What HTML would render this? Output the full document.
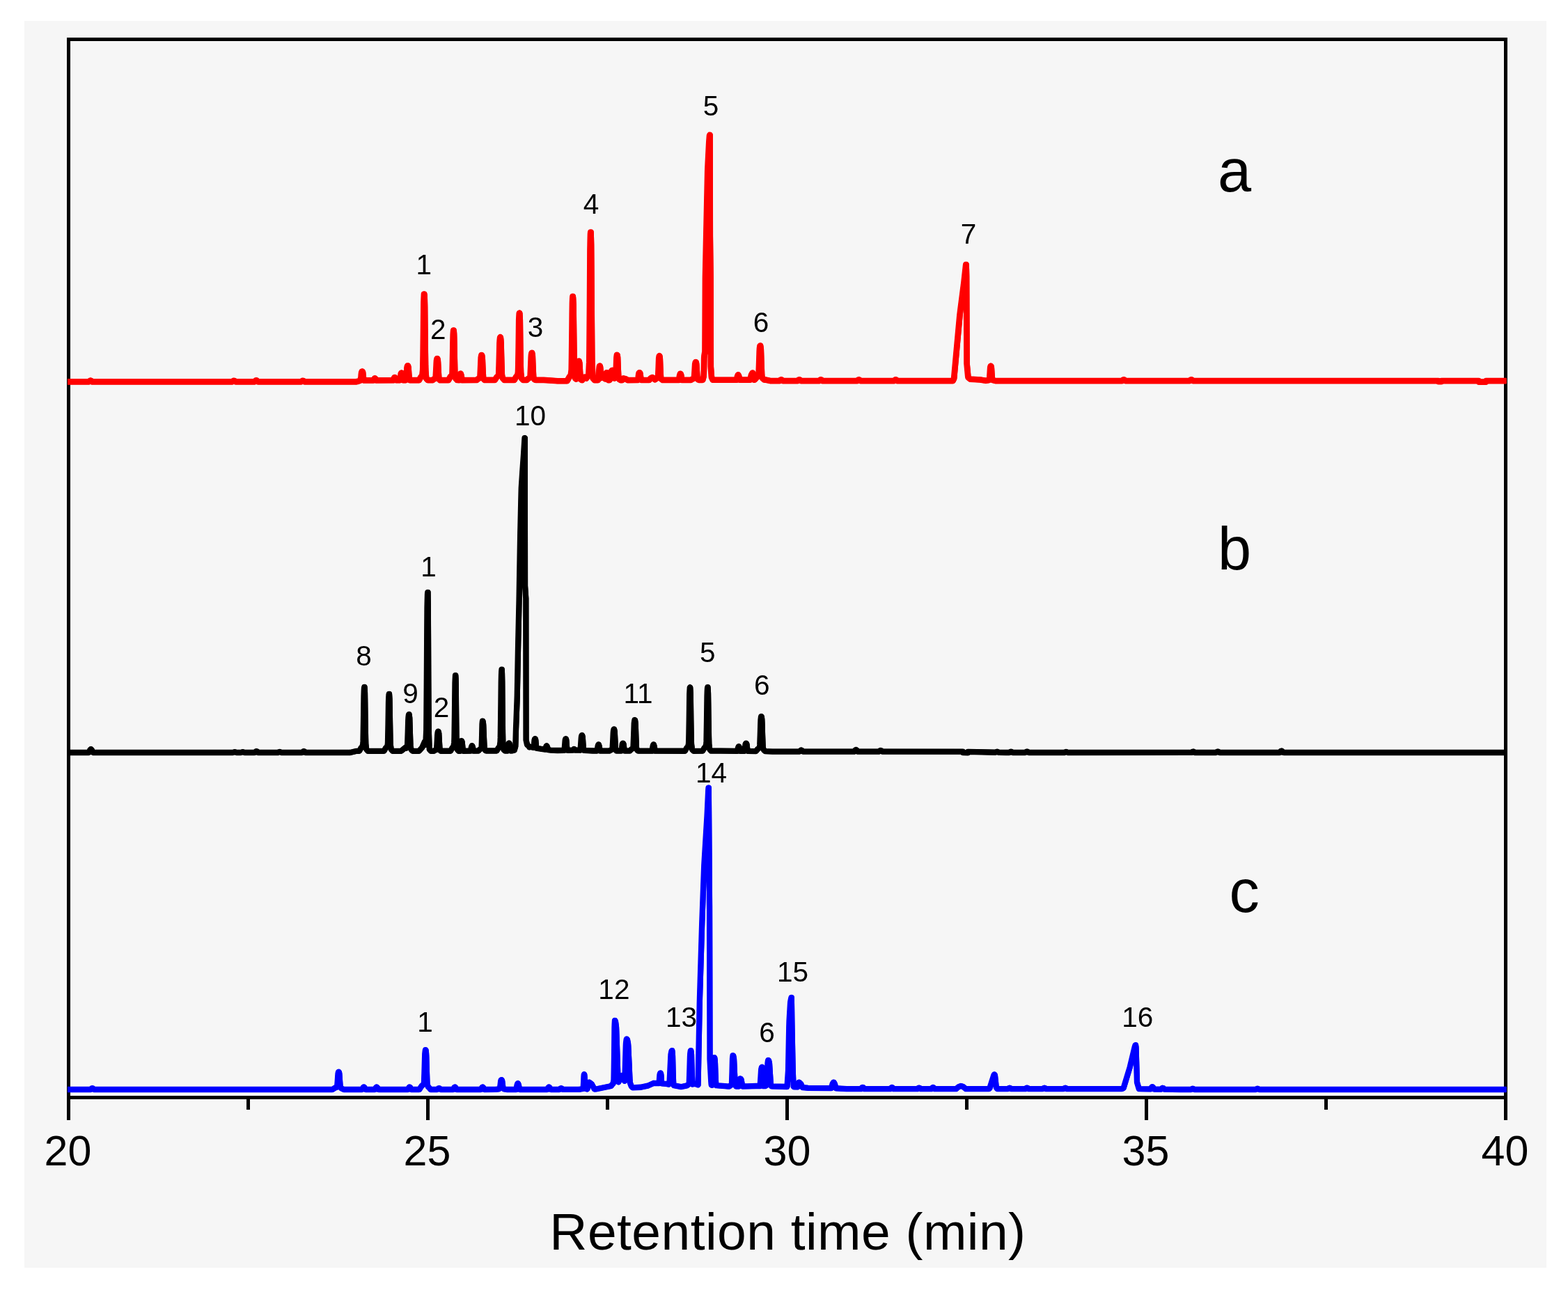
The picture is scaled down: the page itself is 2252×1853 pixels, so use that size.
<!DOCTYPE html>
<html lang="en"><head><meta charset="utf-8"><title>Chromatogram - Retention time (min)</title>
<style>
html,body{margin:0;padding:0;background:#fff;}
body{width:2252px;height:1853px;overflow:hidden;position:relative;font-family:"Liberation Sans",sans-serif;}
svg{position:absolute;left:0;top:0;display:block;}
text{font-family:"Liberation Sans",sans-serif;fill:#000;}
.tk{font-size:61px;text-anchor:middle;}
.pk{font-size:40.5px;text-anchor:middle;}
.ab{font-size:86.5px;text-anchor:start;}
.tt{font-size:75px;text-anchor:middle;}
</style></head><body>
<svg width="2252" height="1853" viewBox="0 0 2252 1853">
<rect x="0" y="0" width="2252" height="1853" fill="#ffffff"/>
<rect x="35" y="30" width="2186" height="1791" fill="#f6f6f6"/>
<g stroke="#000" stroke-width="5" fill="none" shape-rendering="crispEdges">
<rect x="98.5" y="56.5" width="2064" height="1520"/>
<line x1="98.5" y1="1576" x2="98.5" y2="1609"/>
<line x1="614.5" y1="1576" x2="614.5" y2="1609"/>
<line x1="1130.5" y1="1576" x2="1130.5" y2="1609"/>
<line x1="1646.5" y1="1576" x2="1646.5" y2="1609"/>
<line x1="2162.5" y1="1576" x2="2162.5" y2="1609"/>
<line x1="356.5" y1="1576" x2="356.5" y2="1594"/>
<line x1="872.5" y1="1576" x2="872.5" y2="1594"/>
<line x1="1388.5" y1="1576" x2="1388.5" y2="1594"/>
<line x1="1904.5" y1="1576" x2="1904.5" y2="1594"/>
</g>
<path d="M97.00,548.40 L127.50,548.40 L128.00,548.00 L129.00,547.04 L129.75,546.67 L130.25,546.67 L131.25,547.24 L132.25,548.25 L132.50,548.40 L333.50,548.40 L334.25,547.82 L335.00,547.19 L335.75,546.87 L336.25,546.87 L337.25,547.37 L338.25,548.27 L338.50,548.40 L365.50,548.40 L366.00,547.93 L367.00,546.81 L367.75,546.38 L368.25,546.38 L369.00,546.81 L370.25,548.22 L370.50,548.40 L432.50,548.40 L433.25,547.82 L434.00,547.19 L434.75,546.87 L435.25,546.87 L436.25,547.37 L437.25,548.27 L437.50,548.40 L511.25,548.35 L513.00,548.04 L517.50,546.53 L517.75,546.35 L518.00,544.77 L518.50,540.96 L519.00,536.33 L519.25,534.79 L519.75,533.72 L520.00,533.55 L520.25,533.55 L520.50,533.77 L521.00,534.89 L521.25,536.79 L521.75,541.33 L522.25,545.14 L522.50,546.35 L536.50,546.32 L536.75,545.88 L537.25,544.53 L538.00,543.49 L538.25,543.35 L538.50,543.35 L539.25,544.38 L539.50,544.88 L540.00,546.31 L564.75,546.26 L565.00,546.11 L565.50,544.32 L565.75,543.52 L566.50,542.22 L566.75,542.05 L567.00,542.05 L567.75,543.34 L568.00,543.96 L568.50,545.75 L568.75,546.25 L574.25,546.24 L574.50,545.83 L575.00,542.59 L575.25,540.77 L575.75,536.89 L576.25,535.94 L576.50,535.65 L577.00,535.74 L577.50,536.60 L577.75,537.61 L578.25,541.55 L578.75,544.85 L579.00,546.23 L582.50,546.22 L583.00,545.36 L583.25,544.41 L583.75,538.51 L584.00,535.30 L584.50,528.12 L584.75,526.82 L585.00,525.94 L585.25,525.34 L585.50,525.25 L585.75,525.34 L586.00,525.94 L586.25,526.81 L586.50,528.12 L587.00,535.29 L587.25,538.50 L587.75,544.40 L588.00,545.35 L588.50,546.21 L601.75,546.18 L604.50,541.35 L606.25,539.69 L606.50,537.75 L607.25,531.33 L607.50,518.58 L607.75,500.13 L608.00,480.33 L608.25,455.21 L608.50,433.89 L608.75,427.79 L609.00,422.55 L609.25,422.55 L609.50,424.22 L609.75,430.23 L610.00,440.13 L610.25,465.26 L610.50,489.05 L611.00,525.96 L611.25,532.88 L612.00,542.12 L612.25,543.79 L614.00,545.69 L614.25,546.03 L614.50,546.15 L621.00,546.14 L621.25,546.06 L622.75,544.88 L625.25,543.69 L625.50,543.55 L625.75,540.95 L626.25,532.44 L626.50,527.46 L626.75,522.29 L627.00,518.06 L627.50,515.55 L627.75,515.05 L628.00,515.05 L628.25,515.42 L628.50,516.55 L628.75,517.80 L629.00,521.25 L629.50,531.58 L630.00,540.09 L630.25,543.58 L631.25,545.48 L631.50,545.84 L632.00,546.11 L644.00,546.08 L646.50,541.59 L646.75,541.21 L648.50,539.54 L649.50,537.85 L649.75,528.60 L650.00,517.80 L650.25,505.43 L650.50,490.73 L650.75,480.48 L651.00,476.90 L651.25,474.55 L651.50,474.55 L651.75,476.19 L652.00,479.76 L652.25,487.78 L652.50,502.49 L652.75,515.63 L653.25,537.23 L653.50,539.07 L654.25,543.16 L654.50,543.75 L656.25,545.67 L656.50,546.00 L659.25,546.05 L659.50,544.77 L660.25,539.83 L660.50,538.87 L661.00,537.28 L661.25,536.65 L661.50,536.65 L661.75,537.12 L662.50,539.50 L663.50,546.05 L684.50,546.00 L684.75,545.90 L686.50,544.29 L689.00,542.93 L689.25,542.77 L689.50,540.73 L690.00,530.97 L690.25,525.46 L690.50,519.54 L690.75,513.79 L691.25,510.91 L691.50,510.05 L691.75,510.05 L692.00,510.33 L692.25,511.48 L692.50,512.92 L692.75,515.98 L693.25,527.83 L693.50,532.92 L694.00,542.67 L695.25,545.34 L696.25,545.96 L710.50,545.94 L710.75,545.71 L713.25,541.78 L715.25,540.04 L716.00,539.25 L716.25,537.41 L716.75,521.09 L717.00,512.22 L717.50,492.39 L717.75,488.78 L718.00,486.37 L718.25,484.69 L718.50,484.45 L718.75,484.69 L719.00,486.36 L719.25,488.77 L719.50,492.38 L720.00,512.22 L720.25,521.08 L720.75,537.40 L721.00,539.76 L722.00,543.40 L724.00,545.62 L724.25,545.91 L738.50,545.88 L738.75,545.58 L741.25,541.12 L743.00,539.44 L743.25,538.51 L744.00,534.80 L744.25,527.63 L744.75,498.76 L745.25,459.47 L745.50,454.70 L745.75,450.31 L746.00,449.65 L746.25,450.30 L746.50,454.70 L746.75,459.47 L747.25,498.76 L747.75,527.62 L748.00,535.31 L748.75,541.84 L749.00,543.44 L750.75,545.33 L751.00,545.66 L751.25,545.86 L756.50,545.84 L757.00,545.43 L758.50,543.90 L760.75,542.60 L761.50,542.10 L762.00,531.56 L762.25,526.06 L762.75,513.26 L763.00,509.95 L763.25,508.40 L763.50,507.16 L763.75,506.85 L764.00,506.85 L764.25,507.77 L764.75,510.88 L765.00,517.09 L765.25,523.49 L765.50,529.44 L766.00,539.98 L766.25,542.44 L767.25,544.79 L767.75,545.24 L768.50,545.75 L769.75,545.82 L780.75,545.85 L800.75,547.25 L814.50,547.22 L816.00,544.39 L818.00,540.87 L819.75,539.22 L820.75,531.06 L821.00,516.02 L821.25,497.75 L821.50,476.62 L821.75,451.24 L822.00,435.08 L822.25,428.91 L822.50,425.85 L822.75,425.85 L823.00,428.17 L823.50,438.03 L824.00,478.65 L824.25,496.52 L824.75,529.01 L825.00,533.04 L825.75,541.06 L826.00,543.25 L827.25,544.57 L828.75,543.96 L829.25,543.69 L829.50,541.53 L830.00,533.17 L830.50,522.00 L830.75,520.31 L831.00,519.00 L831.25,518.65 L831.50,518.65 L831.75,519.30 L832.25,521.51 L832.50,525.91 L832.75,530.44 L833.00,534.66 L833.50,542.12 L833.75,543.86 L834.75,545.53 L835.50,545.97 L836.00,546.09 L837.50,543.28 L839.25,541.77 L839.50,541.65 L839.75,541.65 L841.50,543.04 L841.75,543.36 L842.00,543.50 L843.50,540.85 L845.25,539.19 L845.50,535.00 L846.25,520.16 L846.50,502.28 L847.00,440.65 L847.50,358.34 L847.75,345.86 L848.00,336.22 L848.25,333.65 L848.50,333.65 L848.75,341.86 L849.00,351.85 L849.25,383.03 L849.50,424.18 L849.75,459.13 L850.00,489.95 L850.25,518.27 L851.25,541.73 L851.50,543.34 L853.25,545.26 L853.75,545.93 L854.00,546.13 L858.50,546.12 L858.75,546.05 L859.50,544.53 L860.00,537.91 L860.25,533.83 L860.50,529.23 L860.75,527.00 L861.00,525.88 L861.25,525.55 L861.50,525.55 L861.75,526.26 L862.00,527.22 L862.25,529.49 L862.50,533.43 L862.75,537.19 L863.00,540.25 L863.25,543.04 L864.00,541.07 L865.75,539.01 L866.25,539.01 L868.00,541.07 L869.25,544.38 L869.50,544.06 L869.75,542.41 L870.00,540.60 L870.50,536.49 L871.00,535.49 L871.25,535.25 L871.50,535.25 L871.75,535.41 L872.25,536.38 L872.50,538.13 L872.75,540.19 L873.00,542.08 L873.50,545.37 L873.75,546.04 L875.00,546.09 L875.50,545.74 L875.75,545.51 L876.00,544.64 L877.50,535.39 L877.75,533.83 L878.00,533.21 L878.75,532.14 L879.25,531.95 L879.50,531.95 L880.00,532.30 L880.75,533.43 L881.00,534.76 L882.25,542.49 L882.50,543.39 L883.75,542.65 L884.25,542.30 L884.50,537.40 L884.75,531.97 L885.00,525.81 L885.25,518.56 L885.50,513.06 L885.75,511.30 L886.00,509.85 L886.25,509.85 L886.50,510.23 L886.75,511.72 L887.00,513.36 L887.25,519.28 L887.50,526.01 L887.75,531.84 L888.25,542.28 L889.25,544.61 L889.50,544.99 L891.25,546.05 L893.50,546.05 L893.75,545.91 L894.25,544.44 L894.75,543.63 L895.25,543.56 L899.00,544.52 L901.50,546.03 L915.75,546.00 L916.00,545.88 L916.25,544.84 L916.75,541.69 L917.25,537.93 L917.50,536.36 L918.00,535.43 L918.25,535.25 L918.50,535.25 L918.75,535.39 L919.25,536.27 L919.50,537.54 L920.00,541.37 L920.50,544.52 L920.75,545.82 L921.00,545.99 L932.50,545.96 L933.50,544.66 L934.25,543.63 L935.00,543.10 L936.50,542.21 L937.00,542.15 L939.25,543.48 L940.50,545.20 L940.75,545.27 L942.25,543.94 L944.25,542.92 L945.00,542.42 L945.25,538.72 L945.50,533.51 L945.75,527.95 L946.00,520.99 L946.25,514.67 L946.50,512.98 L946.75,511.47 L947.00,511.25 L947.25,511.47 L947.50,512.97 L947.75,514.66 L948.00,520.99 L948.25,527.95 L948.50,533.51 L948.75,538.72 L949.00,542.54 L950.00,544.87 L951.75,545.92 L975.00,545.87 L975.25,544.61 L976.00,540.02 L976.25,538.96 L977.00,536.75 L977.25,536.75 L977.50,537.04 L978.25,539.25 L978.50,540.63 L979.25,545.22 L979.50,545.86 L992.25,545.83 L994.00,544.67 L996.75,543.57 L997.00,542.10 L997.50,535.09 L997.75,531.13 L998.00,526.87 L998.25,522.74 L998.75,520.67 L999.00,520.05 L999.25,520.05 L999.50,520.25 L999.75,521.08 L1000.00,522.11 L1000.25,524.31 L1000.75,532.83 L1001.00,536.49 L1001.50,543.50 L1002.75,545.42 L1003.75,545.81 L1009.00,545.80 L1009.25,545.62 L1010.50,540.97 L1010.75,537.87 L1011.25,514.32 L1011.50,510.78 L1012.50,504.89 L1013.00,398.89 L1016.25,246.47 L1016.50,240.17 L1018.25,205.54 L1018.50,201.90 L1019.00,195.28 L1019.25,193.95 L1019.50,193.95 L1019.75,339.25 L1020.50,398.88 L1020.75,526.73 L1021.75,539.98 L1022.00,542.19 L1023.50,545.50 L1023.75,545.77 L1058.00,545.68 L1059.00,540.64 L1059.75,538.81 L1060.00,538.45 L1060.25,538.45 L1060.50,538.93 L1061.00,540.15 L1061.25,540.88 L1062.00,544.66 L1062.25,545.68 L1077.25,545.65 L1079.00,538.56 L1080.50,535.83 L1080.75,535.65 L1081.00,535.65 L1082.00,538.46 L1083.00,544.35 L1083.25,545.64 L1083.75,545.64 L1084.25,545.10 L1086.50,542.26 L1088.75,540.67 L1089.50,540.04 L1090.00,527.04 L1090.25,520.26 L1090.75,504.45 L1091.00,500.38 L1091.25,498.46 L1091.50,496.93 L1091.75,496.55 L1092.00,496.55 L1092.25,497.69 L1092.75,501.53 L1093.00,509.19 L1093.25,517.09 L1093.50,524.43 L1094.00,537.43 L1094.25,540.47 L1095.25,543.37 L1095.50,543.72 L1097.25,545.23 L1097.50,545.49 L1098.00,545.60 L1100.25,545.66 L1106.25,547.10 L1119.50,547.10 L1120.75,545.84 L1121.75,545.35 L1122.25,545.42 L1123.00,545.79 L1124.25,547.05 L1145.50,547.10 L1146.00,546.70 L1147.00,545.74 L1147.75,545.37 L1148.25,545.37 L1149.25,545.94 L1150.25,546.95 L1150.50,547.10 L1176.25,547.10 L1176.50,547.00 L1177.75,545.76 L1178.75,545.35 L1179.00,545.35 L1180.00,545.89 L1181.25,547.10 L1231.00,547.10 L1232.25,545.84 L1233.25,545.35 L1233.75,545.42 L1234.50,545.79 L1235.75,547.05 L1283.75,547.10 L1284.00,547.00 L1285.25,545.76 L1286.25,545.35 L1286.50,545.35 L1287.50,545.89 L1288.75,547.10 L1368.25,547.10 L1368.50,546.90 L1370.00,543.96 L1370.25,542.12 L1378.50,451.94 L1384.50,405.19 L1386.75,384.85 L1387.00,382.38 L1387.25,380.15 L1387.50,380.15 L1387.75,386.41 L1388.00,396.84 L1388.50,522.06 L1390.25,540.51 L1390.50,542.17 L1393.25,544.47 L1393.75,544.62 L1407.75,545.49 L1415.75,546.82 L1419.00,546.24 L1420.00,546.12 L1421.00,544.25 L1421.25,541.96 L1421.50,538.88 L1421.75,535.60 L1422.00,531.50 L1422.25,527.77 L1422.75,525.88 L1423.00,525.75 L1423.25,525.88 L1423.75,527.77 L1424.00,531.50 L1424.25,535.60 L1424.50,538.88 L1424.75,541.96 L1425.00,544.25 L1426.00,546.12 L1429.75,547.10 L1611.50,547.10 L1612.00,546.70 L1613.00,545.74 L1613.75,545.37 L1614.25,545.37 L1615.25,545.94 L1616.25,546.95 L1616.50,547.10 L1708.50,547.10 L1709.00,546.70 L1710.00,545.74 L1710.75,545.37 L1711.25,545.37 L1712.25,545.94 L1713.25,546.95 L1713.50,547.10 L2065.75,547.10 L2066.00,548.10 L2070.00,548.10 L2070.25,547.10 L2123.75,547.10 L2124.00,548.60 L2134.00,548.60 L2134.25,547.10 L2163.50,547.10" fill="none" stroke="#ff0000" stroke-width="8.7" stroke-linejoin="round" stroke-linecap="butt"/>
<path transform="translate(0.35,0)" d="M97.00,548.40 L127.50,548.40 L128.00,548.00 L129.00,547.04 L129.75,546.67 L130.25,546.67 L131.25,547.24 L132.25,548.25 L132.50,548.40 L333.50,548.40 L334.25,547.82 L335.00,547.19 L335.75,546.87 L336.25,546.87 L337.25,547.37 L338.25,548.27 L338.50,548.40 L365.50,548.40 L366.00,547.93 L367.00,546.81 L367.75,546.38 L368.25,546.38 L369.00,546.81 L370.25,548.22 L370.50,548.40 L432.50,548.40 L433.25,547.82 L434.00,547.19 L434.75,546.87 L435.25,546.87 L436.25,547.37 L437.25,548.27 L437.50,548.40 L511.25,548.35 L513.00,548.04 L517.50,546.53 L517.75,546.35 L518.00,544.77 L518.50,540.96 L519.00,536.33 L519.25,534.79 L519.75,533.72 L520.00,533.55 L520.25,533.55 L520.50,533.77 L521.00,534.89 L521.25,536.79 L521.75,541.33 L522.25,545.14 L522.50,546.35 L536.50,546.32 L536.75,545.88 L537.25,544.53 L538.00,543.49 L538.25,543.35 L538.50,543.35 L539.25,544.38 L539.50,544.88 L540.00,546.31 L564.75,546.26 L565.00,546.11 L565.50,544.32 L565.75,543.52 L566.50,542.22 L566.75,542.05 L567.00,542.05 L567.75,543.34 L568.00,543.96 L568.50,545.75 L568.75,546.25 L574.25,546.24 L574.50,545.83 L575.00,542.59 L575.25,540.77 L575.75,536.89 L576.25,535.94 L576.50,535.65 L577.00,535.74 L577.50,536.60 L577.75,537.61 L578.25,541.55 L578.75,544.85 L579.00,546.23 L582.50,546.22 L583.00,545.36 L583.25,544.41 L583.75,538.51 L584.00,535.30 L584.50,528.12 L584.75,526.82 L585.00,525.94 L585.25,525.34 L585.50,525.25 L585.75,525.34 L586.00,525.94 L586.25,526.81 L586.50,528.12 L587.00,535.29 L587.25,538.50 L587.75,544.40 L588.00,545.35 L588.50,546.21 L601.75,546.18 L604.50,541.35 L606.25,539.69 L606.50,537.75 L607.25,531.33 L607.50,518.58 L607.75,500.13 L608.00,480.33 L608.25,455.21 L608.50,433.89 L608.75,427.79 L609.00,422.55 L609.25,422.55 L609.50,424.22 L609.75,430.23 L610.00,440.13 L610.25,465.26 L610.50,489.05 L611.00,525.96 L611.25,532.88 L612.00,542.12 L612.25,543.79 L614.00,545.69 L614.25,546.03 L614.50,546.15 L621.00,546.14 L621.25,546.06 L622.75,544.88 L625.25,543.69 L625.50,543.55 L625.75,540.95 L626.25,532.44 L626.50,527.46 L626.75,522.29 L627.00,518.06 L627.50,515.55 L627.75,515.05 L628.00,515.05 L628.25,515.42 L628.50,516.55 L628.75,517.80 L629.00,521.25 L629.50,531.58 L630.00,540.09 L630.25,543.58 L631.25,545.48 L631.50,545.84 L632.00,546.11 L644.00,546.08 L646.50,541.59 L646.75,541.21 L648.50,539.54 L649.50,537.85 L649.75,528.60 L650.00,517.80 L650.25,505.43 L650.50,490.73 L650.75,480.48 L651.00,476.90 L651.25,474.55 L651.50,474.55 L651.75,476.19 L652.00,479.76 L652.25,487.78 L652.50,502.49 L652.75,515.63 L653.25,537.23 L653.50,539.07 L654.25,543.16 L654.50,543.75 L656.25,545.67 L656.50,546.00 L659.25,546.05 L659.50,544.77 L660.25,539.83 L660.50,538.87 L661.00,537.28 L661.25,536.65 L661.50,536.65 L661.75,537.12 L662.50,539.50 L663.50,546.05 L684.50,546.00 L684.75,545.90 L686.50,544.29 L689.00,542.93 L689.25,542.77 L689.50,540.73 L690.00,530.97 L690.25,525.46 L690.50,519.54 L690.75,513.79 L691.25,510.91 L691.50,510.05 L691.75,510.05 L692.00,510.33 L692.25,511.48 L692.50,512.92 L692.75,515.98 L693.25,527.83 L693.50,532.92 L694.00,542.67 L695.25,545.34 L696.25,545.96 L710.50,545.94 L710.75,545.71 L713.25,541.78 L715.25,540.04 L716.00,539.25 L716.25,537.41 L716.75,521.09 L717.00,512.22 L717.50,492.39 L717.75,488.78 L718.00,486.37 L718.25,484.69 L718.50,484.45 L718.75,484.69 L719.00,486.36 L719.25,488.77 L719.50,492.38 L720.00,512.22 L720.25,521.08 L720.75,537.40 L721.00,539.76 L722.00,543.40 L724.00,545.62 L724.25,545.91 L738.50,545.88 L738.75,545.58 L741.25,541.12 L743.00,539.44 L743.25,538.51 L744.00,534.80 L744.25,527.63 L744.75,498.76 L745.25,459.47 L745.50,454.70 L745.75,450.31 L746.00,449.65 L746.25,450.30 L746.50,454.70 L746.75,459.47 L747.25,498.76 L747.75,527.62 L748.00,535.31 L748.75,541.84 L749.00,543.44 L750.75,545.33 L751.00,545.66 L751.25,545.86 L756.50,545.84 L757.00,545.43 L758.50,543.90 L760.75,542.60 L761.50,542.10 L762.00,531.56 L762.25,526.06 L762.75,513.26 L763.00,509.95 L763.25,508.40 L763.50,507.16 L763.75,506.85 L764.00,506.85 L764.25,507.77 L764.75,510.88 L765.00,517.09 L765.25,523.49 L765.50,529.44 L766.00,539.98 L766.25,542.44 L767.25,544.79 L767.75,545.24 L768.50,545.75 L769.75,545.82 L780.75,545.85 L800.75,547.25 L814.50,547.22 L816.00,544.39 L818.00,540.87 L819.75,539.22 L820.75,531.06 L821.00,516.02 L821.25,497.75 L821.50,476.62 L821.75,451.24 L822.00,435.08 L822.25,428.91 L822.50,425.85 L822.75,425.85 L823.00,428.17 L823.50,438.03 L824.00,478.65 L824.25,496.52 L824.75,529.01 L825.00,533.04 L825.75,541.06 L826.00,543.25 L827.25,544.57 L828.75,543.96 L829.25,543.69 L829.50,541.53 L830.00,533.17 L830.50,522.00 L830.75,520.31 L831.00,519.00 L831.25,518.65 L831.50,518.65 L831.75,519.30 L832.25,521.51 L832.50,525.91 L832.75,530.44 L833.00,534.66 L833.50,542.12 L833.75,543.86 L834.75,545.53 L835.50,545.97 L836.00,546.09 L837.50,543.28 L839.25,541.77 L839.50,541.65 L839.75,541.65 L841.50,543.04 L841.75,543.36 L842.00,543.50 L843.50,540.85 L845.25,539.19 L845.50,535.00 L846.25,520.16 L846.50,502.28 L847.00,440.65 L847.50,358.34 L847.75,345.86 L848.00,336.22 L848.25,333.65 L848.50,333.65 L848.75,341.86 L849.00,351.85 L849.25,383.03 L849.50,424.18 L849.75,459.13 L850.00,489.95 L850.25,518.27 L851.25,541.73 L851.50,543.34 L853.25,545.26 L853.75,545.93 L854.00,546.13 L858.50,546.12 L858.75,546.05 L859.50,544.53 L860.00,537.91 L860.25,533.83 L860.50,529.23 L860.75,527.00 L861.00,525.88 L861.25,525.55 L861.50,525.55 L861.75,526.26 L862.00,527.22 L862.25,529.49 L862.50,533.43 L862.75,537.19 L863.00,540.25 L863.25,543.04 L864.00,541.07 L865.75,539.01 L866.25,539.01 L868.00,541.07 L869.25,544.38 L869.50,544.06 L869.75,542.41 L870.00,540.60 L870.50,536.49 L871.00,535.49 L871.25,535.25 L871.50,535.25 L871.75,535.41 L872.25,536.38 L872.50,538.13 L872.75,540.19 L873.00,542.08 L873.50,545.37 L873.75,546.04 L875.00,546.09 L875.50,545.74 L875.75,545.51 L876.00,544.64 L877.50,535.39 L877.75,533.83 L878.00,533.21 L878.75,532.14 L879.25,531.95 L879.50,531.95 L880.00,532.30 L880.75,533.43 L881.00,534.76 L882.25,542.49 L882.50,543.39 L883.75,542.65 L884.25,542.30 L884.50,537.40 L884.75,531.97 L885.00,525.81 L885.25,518.56 L885.50,513.06 L885.75,511.30 L886.00,509.85 L886.25,509.85 L886.50,510.23 L886.75,511.72 L887.00,513.36 L887.25,519.28 L887.50,526.01 L887.75,531.84 L888.25,542.28 L889.25,544.61 L889.50,544.99 L891.25,546.05 L893.50,546.05 L893.75,545.91 L894.25,544.44 L894.75,543.63 L895.25,543.56 L899.00,544.52 L901.50,546.03 L915.75,546.00 L916.00,545.88 L916.25,544.84 L916.75,541.69 L917.25,537.93 L917.50,536.36 L918.00,535.43 L918.25,535.25 L918.50,535.25 L918.75,535.39 L919.25,536.27 L919.50,537.54 L920.00,541.37 L920.50,544.52 L920.75,545.82 L921.00,545.99 L932.50,545.96 L933.50,544.66 L934.25,543.63 L935.00,543.10 L936.50,542.21 L937.00,542.15 L939.25,543.48 L940.50,545.20 L940.75,545.27 L942.25,543.94 L944.25,542.92 L945.00,542.42 L945.25,538.72 L945.50,533.51 L945.75,527.95 L946.00,520.99 L946.25,514.67 L946.50,512.98 L946.75,511.47 L947.00,511.25 L947.25,511.47 L947.50,512.97 L947.75,514.66 L948.00,520.99 L948.25,527.95 L948.50,533.51 L948.75,538.72 L949.00,542.54 L950.00,544.87 L951.75,545.92 L975.00,545.87 L975.25,544.61 L976.00,540.02 L976.25,538.96 L977.00,536.75 L977.25,536.75 L977.50,537.04 L978.25,539.25 L978.50,540.63 L979.25,545.22 L979.50,545.86 L992.25,545.83 L994.00,544.67 L996.75,543.57 L997.00,542.10 L997.50,535.09 L997.75,531.13 L998.00,526.87 L998.25,522.74 L998.75,520.67 L999.00,520.05 L999.25,520.05 L999.50,520.25 L999.75,521.08 L1000.00,522.11 L1000.25,524.31 L1000.75,532.83 L1001.00,536.49 L1001.50,543.50 L1002.75,545.42 L1003.75,545.81 L1009.00,545.80 L1009.25,545.62 L1010.50,540.97 L1010.75,537.87 L1011.25,514.32 L1011.50,510.78 L1012.50,504.89 L1013.00,398.89 L1016.25,246.47 L1016.50,240.17 L1018.25,205.54 L1018.50,201.90 L1019.00,195.28 L1019.25,193.95 L1019.50,193.95 L1019.75,339.25 L1020.50,398.88 L1020.75,526.73 L1021.75,539.98 L1022.00,542.19 L1023.50,545.50 L1023.75,545.77 L1058.00,545.68 L1059.00,540.64 L1059.75,538.81 L1060.00,538.45 L1060.25,538.45 L1060.50,538.93 L1061.00,540.15 L1061.25,540.88 L1062.00,544.66 L1062.25,545.68 L1077.25,545.65 L1079.00,538.56 L1080.50,535.83 L1080.75,535.65 L1081.00,535.65 L1082.00,538.46 L1083.00,544.35 L1083.25,545.64 L1083.75,545.64 L1084.25,545.10 L1086.50,542.26 L1088.75,540.67 L1089.50,540.04 L1090.00,527.04 L1090.25,520.26 L1090.75,504.45 L1091.00,500.38 L1091.25,498.46 L1091.50,496.93 L1091.75,496.55 L1092.00,496.55 L1092.25,497.69 L1092.75,501.53 L1093.00,509.19 L1093.25,517.09 L1093.50,524.43 L1094.00,537.43 L1094.25,540.47 L1095.25,543.37 L1095.50,543.72 L1097.25,545.23 L1097.50,545.49 L1098.00,545.60 L1100.25,545.66 L1106.25,547.10 L1119.50,547.10 L1120.75,545.84 L1121.75,545.35 L1122.25,545.42 L1123.00,545.79 L1124.25,547.05 L1145.50,547.10 L1146.00,546.70 L1147.00,545.74 L1147.75,545.37 L1148.25,545.37 L1149.25,545.94 L1150.25,546.95 L1150.50,547.10 L1176.25,547.10 L1176.50,547.00 L1177.75,545.76 L1178.75,545.35 L1179.00,545.35 L1180.00,545.89 L1181.25,547.10 L1231.00,547.10 L1232.25,545.84 L1233.25,545.35 L1233.75,545.42 L1234.50,545.79 L1235.75,547.05 L1283.75,547.10 L1284.00,547.00 L1285.25,545.76 L1286.25,545.35 L1286.50,545.35 L1287.50,545.89 L1288.75,547.10 L1368.25,547.10 L1368.50,546.90 L1370.00,543.96 L1370.25,542.12 L1378.50,451.94 L1384.50,405.19 L1386.75,384.85 L1387.00,382.38 L1387.25,380.15 L1387.50,380.15 L1387.75,386.41 L1388.00,396.84 L1388.50,522.06 L1390.25,540.51 L1390.50,542.17 L1393.25,544.47 L1393.75,544.62 L1407.75,545.49 L1415.75,546.82 L1419.00,546.24 L1420.00,546.12 L1421.00,544.25 L1421.25,541.96 L1421.50,538.88 L1421.75,535.60 L1422.00,531.50 L1422.25,527.77 L1422.75,525.88 L1423.00,525.75 L1423.25,525.88 L1423.75,527.77 L1424.00,531.50 L1424.25,535.60 L1424.50,538.88 L1424.75,541.96 L1425.00,544.25 L1426.00,546.12 L1429.75,547.10 L1611.50,547.10 L1612.00,546.70 L1613.00,545.74 L1613.75,545.37 L1614.25,545.37 L1615.25,545.94 L1616.25,546.95 L1616.50,547.10 L1708.50,547.10 L1709.00,546.70 L1710.00,545.74 L1710.75,545.37 L1711.25,545.37 L1712.25,545.94 L1713.25,546.95 L1713.50,547.10 L2065.75,547.10 L2066.00,548.10 L2070.00,548.10 L2070.25,547.10 L2123.75,547.10 L2124.00,548.60 L2134.00,548.60 L2134.25,547.10 L2163.50,547.10" fill="none" stroke="#ff0000" stroke-width="7.9" stroke-linejoin="round" stroke-linecap="butt"/>
<path d="M97.00,1081.00 L127.50,1081.00 L127.75,1080.78 L129.25,1077.30 L130.25,1076.20 L130.75,1076.20 L131.75,1077.30 L133.25,1080.78 L133.50,1081.00 L334.50,1081.00 L336.25,1080.28 L337.25,1080.16 L338.25,1080.44 L339.50,1081.00 L346.00,1081.00 L347.75,1080.28 L348.75,1080.16 L349.75,1080.44 L351.00,1081.00 L365.75,1081.00 L366.00,1080.89 L367.25,1079.59 L368.25,1079.15 L368.50,1079.15 L369.50,1079.72 L370.75,1081.00 L399.00,1081.00 L400.50,1080.18 L401.50,1079.95 L402.75,1080.30 L404.00,1081.00 L433.75,1081.00 L434.00,1080.89 L435.25,1079.59 L436.25,1079.15 L436.50,1079.15 L437.50,1079.72 L438.75,1081.00 L503.00,1081.00 L512.25,1078.80 L516.00,1078.79 L518.50,1074.33 L520.25,1072.62 L520.50,1071.95 L521.25,1068.66 L521.50,1064.38 L522.00,1036.74 L522.25,1018.93 L522.50,1000.12 L522.75,992.70 L523.00,988.20 L523.25,986.95 L523.50,986.95 L523.75,990.87 L524.00,995.44 L524.25,1011.40 L524.50,1030.21 L524.75,1045.03 L525.00,1058.85 L525.25,1068.55 L526.00,1074.66 L526.25,1076.53 L528.00,1078.40 L528.25,1078.74 L540.50,1078.80 L551.50,1078.79 L554.00,1074.33 L555.75,1072.62 L556.00,1072.11 L556.75,1069.80 L557.00,1066.13 L557.50,1041.40 L557.75,1025.46 L558.00,1008.63 L558.25,1002.00 L558.50,997.97 L558.75,996.85 L559.00,996.85 L559.25,1000.36 L559.50,1004.45 L559.75,1018.73 L560.00,1035.56 L560.25,1048.82 L560.50,1061.18 L560.75,1069.82 L561.50,1074.96 L561.75,1076.53 L563.50,1078.40 L563.75,1078.74 L576.00,1078.80 L576.50,1078.49 L582.25,1073.69 L582.50,1073.65 L582.75,1073.76 L583.25,1074.81 L585.00,1073.32 L585.50,1059.22 L585.75,1051.86 L586.25,1034.72 L586.50,1030.30 L586.75,1028.22 L587.00,1026.56 L587.25,1026.15 L587.50,1026.15 L587.75,1027.39 L588.25,1031.55 L588.50,1039.86 L588.75,1048.43 L589.00,1056.40 L589.50,1070.50 L589.75,1073.79 L590.75,1076.94 L591.00,1077.32 L592.50,1078.68 L592.75,1078.80 L601.75,1078.75 L606.25,1073.75 L610.00,1065.15 L610.25,1065.15 L610.50,1065.84 L611.00,1069.28 L611.25,1069.77 L612.25,1048.78 L612.75,985.05 L613.00,949.49 L613.25,908.39 L613.50,872.27 L613.75,862.29 L614.00,853.15 L614.25,850.85 L614.50,850.85 L614.75,868.28 L615.00,914.78 L615.25,973.82 L615.50,1013.27 L615.75,1049.54 L616.50,1072.43 L616.75,1076.53 L618.50,1078.47 L618.75,1078.80 L623.00,1078.80 L624.00,1078.07 L626.75,1076.86 L627.00,1076.74 L627.50,1068.91 L627.75,1064.82 L628.25,1055.31 L628.50,1052.86 L628.75,1051.70 L629.00,1050.78 L629.25,1050.55 L629.50,1050.55 L629.75,1051.24 L630.25,1053.55 L630.50,1058.16 L630.75,1062.92 L631.00,1067.34 L631.50,1075.17 L631.75,1077.00 L632.75,1078.75 L647.00,1078.76 L649.50,1074.31 L651.25,1072.60 L651.50,1071.56 L652.25,1066.51 L652.50,1058.85 L653.00,1025.63 L653.25,1002.55 L653.50,980.88 L653.75,975.27 L654.00,970.25 L654.25,970.25 L654.50,974.15 L654.75,982.56 L655.00,1013.32 L655.25,1037.02 L655.50,1056.00 L655.75,1067.02 L656.50,1076.14 L656.75,1076.73 L658.25,1078.33 L658.50,1078.66 L658.75,1078.80 L660.75,1078.79 L661.00,1077.63 L661.50,1072.58 L661.75,1069.06 L662.00,1065.77 L662.50,1064.15 L662.75,1064.15 L663.00,1064.28 L663.25,1064.79 L663.50,1065.43 L663.75,1066.78 L664.25,1072.05 L664.75,1076.47 L665.00,1078.64 L665.25,1078.76 L675.75,1078.68 L676.00,1078.19 L676.75,1073.97 L677.00,1073.15 L677.50,1071.79 L677.75,1071.25 L678.00,1071.25 L678.25,1071.66 L679.00,1073.69 L679.75,1077.91 L680.00,1078.65 L687.00,1078.60 L687.75,1077.84 L688.75,1076.70 L690.75,1075.41 L691.50,1074.70 L691.75,1068.71 L692.00,1061.29 L692.25,1051.52 L692.50,1040.19 L692.75,1037.43 L693.00,1035.65 L693.25,1035.65 L693.50,1036.19 L693.75,1037.55 L694.00,1039.08 L694.25,1041.95 L694.75,1054.55 L695.00,1060.50 L695.50,1071.39 L695.75,1074.89 L697.00,1077.86 L697.75,1078.42 L698.25,1078.51 L713.25,1078.50 L713.50,1078.26 L715.75,1074.27 L717.50,1072.59 L717.75,1071.29 L718.50,1065.63 L718.75,1059.15 L719.25,1024.81 L719.50,1003.03 L719.75,980.10 L720.00,969.67 L720.25,964.10 L720.50,961.75 L720.75,961.75 L721.00,967.88 L721.25,979.64 L721.50,1009.45 L721.75,1033.08 L722.00,1052.60 L722.25,1065.59 L723.00,1075.22 L723.25,1076.66 L725.00,1078.50 L729.25,1078.50 L729.50,1076.66 L729.75,1074.63 L730.00,1071.97 L730.25,1069.14 L730.50,1068.20 L730.75,1067.55 L731.00,1067.45 L731.25,1067.51 L731.50,1067.93 L731.75,1068.48 L732.00,1069.71 L732.50,1074.22 L733.00,1077.84 L733.25,1078.50 L735.25,1078.45 L738.50,1077.79 L738.75,1077.35 L740.25,1072.14 L740.50,1064.86 L741.00,1047.11 L742.50,1007.24 L742.75,999.26 L744.00,932.70 L744.25,920.59 L745.50,864.11 L747.00,777.27 L747.25,764.92 L748.50,710.20 L748.75,700.69 L750.25,678.14 L752.00,653.17 L752.25,649.32 L753.50,629.15 L753.75,629.15 L754.00,841.52 L755.25,859.67 L755.50,1062.93 L757.00,1069.70 L759.50,1071.80 L759.75,1072.11 L760.00,1072.87 L760.25,1073.36 L762.00,1073.00 L766.50,1073.87 L766.75,1072.70 L767.00,1069.81 L767.50,1063.22 L768.00,1061.63 L768.25,1061.25 L768.50,1061.25 L768.75,1061.50 L769.25,1063.07 L769.50,1065.86 L769.75,1069.15 L770.00,1072.18 L770.25,1074.59 L776.25,1075.67 L783.00,1076.57 L783.25,1076.36 L783.75,1073.83 L784.75,1071.37 L785.00,1071.25 L785.25,1071.37 L786.25,1073.83 L786.75,1076.36 L787.00,1077.10 L790.75,1077.54 L800.75,1077.99 L810.25,1077.83 L810.50,1077.69 L811.00,1072.22 L811.25,1069.01 L811.50,1065.48 L811.75,1062.92 L812.00,1062.06 L812.25,1061.35 L812.50,1061.25 L812.75,1061.35 L813.00,1062.06 L813.25,1062.92 L813.50,1065.48 L813.75,1069.01 L814.00,1072.22 L814.50,1077.69 L816.00,1077.73 L823.00,1077.62 L823.25,1077.36 L824.00,1076.23 L824.25,1075.95 L824.50,1075.95 L824.75,1076.16 L825.75,1077.57 L831.00,1077.55 L833.25,1077.66 L833.50,1077.52 L834.00,1071.13 L834.25,1067.80 L834.75,1060.03 L835.00,1058.03 L835.25,1057.09 L835.50,1056.34 L835.75,1056.15 L836.00,1056.15 L836.25,1056.71 L836.75,1058.60 L837.25,1066.25 L837.50,1069.85 L838.00,1076.24 L838.25,1077.81 L838.75,1077.94 L851.25,1078.50 L857.50,1078.52 L857.75,1077.30 L858.50,1072.26 L859.25,1069.84 L859.50,1069.35 L859.75,1069.35 L860.00,1070.00 L860.50,1071.62 L860.75,1072.60 L861.50,1077.64 L861.75,1078.52 L875.50,1078.55 L876.50,1077.77 L879.00,1076.58 L879.50,1076.30 L880.00,1067.68 L880.25,1063.18 L880.75,1052.69 L881.00,1049.99 L881.25,1048.72 L881.50,1047.70 L881.75,1047.45 L882.00,1047.45 L882.25,1048.21 L882.75,1050.75 L883.00,1055.84 L883.25,1061.08 L883.50,1065.95 L884.00,1074.58 L884.25,1076.59 L885.25,1078.52 L892.25,1078.58 L892.50,1077.76 L893.00,1074.33 L893.50,1070.15 L893.75,1068.76 L894.25,1067.80 L894.50,1067.65 L894.75,1067.65 L895.00,1067.85 L895.50,1068.86 L895.75,1070.57 L896.25,1074.67 L896.75,1078.10 L897.00,1078.59 L904.50,1078.61 L905.00,1078.12 L906.50,1076.43 L908.75,1074.94 L909.25,1074.56 L909.50,1072.03 L910.00,1059.98 L910.25,1053.18 L910.50,1045.86 L910.75,1038.76 L911.25,1035.21 L911.50,1034.15 L911.75,1034.15 L912.00,1034.50 L912.25,1035.92 L912.50,1037.70 L912.75,1041.47 L913.25,1056.11 L913.50,1062.39 L914.00,1074.44 L915.25,1077.74 L916.25,1078.52 L916.75,1078.63 L936.50,1078.67 L936.75,1077.30 L937.50,1072.26 L938.25,1069.84 L938.50,1069.35 L938.75,1069.35 L939.00,1070.00 L939.50,1071.62 L939.75,1072.60 L940.50,1077.64 L940.75,1078.68 L983.50,1078.77 L983.75,1078.70 L986.25,1074.24 L988.00,1072.57 L988.25,1071.74 L989.00,1068.47 L989.25,1061.68 L989.75,1034.12 L990.25,996.62 L990.50,992.07 L990.75,987.88 L991.00,987.25 L991.25,987.88 L991.50,992.07 L991.75,996.62 L992.25,1034.12 L992.75,1061.68 L993.00,1068.99 L993.75,1075.08 L994.00,1076.58 L995.75,1078.47 L996.00,1078.79 L1009.00,1078.71 L1011.50,1074.33 L1013.25,1072.62 L1013.50,1071.96 L1014.25,1068.69 L1014.50,1064.43 L1015.00,1036.88 L1015.25,1019.12 L1015.50,1000.37 L1015.75,992.98 L1016.00,988.50 L1016.25,987.25 L1016.50,987.25 L1016.75,991.16 L1017.00,995.71 L1017.25,1011.63 L1017.50,1030.38 L1017.75,1045.15 L1018.00,1058.92 L1018.25,1068.59 L1019.00,1074.67 L1019.25,1076.53 L1021.00,1078.40 L1021.25,1078.59 L1034.50,1078.55 L1059.00,1078.79 L1059.25,1077.68 L1059.75,1075.13 L1060.00,1074.12 L1060.75,1072.27 L1061.00,1072.15 L1061.25,1072.27 L1062.00,1074.12 L1062.25,1075.13 L1062.75,1077.68 L1063.00,1078.83 L1069.00,1078.89 L1069.25,1078.79 L1069.75,1075.35 L1070.00,1073.49 L1070.50,1069.32 L1070.75,1068.56 L1071.00,1068.05 L1071.25,1067.70 L1071.75,1067.70 L1072.00,1068.05 L1072.25,1068.56 L1072.50,1069.32 L1073.00,1073.49 L1073.25,1075.35 L1073.75,1078.79 L1074.00,1078.94 L1085.75,1079.04 L1088.00,1076.12 L1090.50,1074.24 L1091.00,1073.81 L1091.25,1069.72 L1091.75,1056.36 L1092.00,1048.53 L1092.25,1040.41 L1092.50,1033.77 L1093.00,1029.83 L1093.25,1029.05 L1093.50,1029.05 L1093.75,1029.63 L1094.00,1031.41 L1094.25,1033.38 L1094.50,1038.79 L1095.00,1055.02 L1095.50,1068.38 L1095.75,1073.88 L1096.75,1076.86 L1097.00,1077.43 L1099.00,1079.19 L1109.50,1079.60 L1148.25,1079.60 L1149.50,1078.11 L1150.50,1077.45 L1151.00,1077.51 L1151.75,1077.96 L1153.00,1079.48 L1153.25,1079.60 L1226.75,1079.60 L1227.00,1079.45 L1228.25,1077.58 L1229.00,1077.02 L1229.50,1076.95 L1230.50,1077.77 L1231.50,1079.29 L1231.75,1079.60 L1262.25,1079.60 L1262.50,1079.50 L1263.75,1078.34 L1264.75,1077.95 L1265.25,1078.06 L1266.00,1078.46 L1267.25,1079.60 L1382.50,1079.66 L1382.75,1079.66 L1383.00,1081.17 L1390.00,1081.33 L1390.25,1079.84 L1429.50,1080.75 L1431.00,1079.96 L1432.00,1079.75 L1433.25,1080.14 L1434.50,1080.87 L1444.75,1081.00 L1449.50,1081.00 L1451.00,1080.03 L1452.00,1079.75 L1453.00,1080.03 L1454.50,1081.00 L1472.50,1081.00 L1473.25,1080.46 L1474.00,1079.87 L1474.75,1079.57 L1475.25,1079.57 L1476.25,1080.04 L1477.25,1080.87 L1477.50,1081.00 L1528.50,1081.00 L1530.00,1080.18 L1531.00,1079.95 L1532.25,1080.30 L1533.50,1081.00 L1711.25,1080.96 L1712.50,1079.91 L1713.50,1079.55 L1714.00,1079.63 L1714.75,1079.95 L1716.00,1081.00 L1746.50,1081.00 L1747.25,1080.46 L1748.00,1079.87 L1748.75,1079.57 L1749.25,1079.57 L1750.25,1080.04 L1751.25,1080.87 L1751.50,1081.00 L1838.00,1081.00 L1839.25,1079.23 L1840.25,1078.55 L1840.75,1078.65 L1841.50,1079.16 L1842.75,1080.93 L1844.25,1081.00 L2163.50,1081.00" fill="none" stroke="#000000" stroke-width="8.3" stroke-linejoin="round" stroke-linecap="butt"/>
<path transform="translate(0.35,0)" d="M97.00,1081.00 L127.50,1081.00 L127.75,1080.78 L129.25,1077.30 L130.25,1076.20 L130.75,1076.20 L131.75,1077.30 L133.25,1080.78 L133.50,1081.00 L334.50,1081.00 L336.25,1080.28 L337.25,1080.16 L338.25,1080.44 L339.50,1081.00 L346.00,1081.00 L347.75,1080.28 L348.75,1080.16 L349.75,1080.44 L351.00,1081.00 L365.75,1081.00 L366.00,1080.89 L367.25,1079.59 L368.25,1079.15 L368.50,1079.15 L369.50,1079.72 L370.75,1081.00 L399.00,1081.00 L400.50,1080.18 L401.50,1079.95 L402.75,1080.30 L404.00,1081.00 L433.75,1081.00 L434.00,1080.89 L435.25,1079.59 L436.25,1079.15 L436.50,1079.15 L437.50,1079.72 L438.75,1081.00 L503.00,1081.00 L512.25,1078.80 L516.00,1078.79 L518.50,1074.33 L520.25,1072.62 L520.50,1071.95 L521.25,1068.66 L521.50,1064.38 L522.00,1036.74 L522.25,1018.93 L522.50,1000.12 L522.75,992.70 L523.00,988.20 L523.25,986.95 L523.50,986.95 L523.75,990.87 L524.00,995.44 L524.25,1011.40 L524.50,1030.21 L524.75,1045.03 L525.00,1058.85 L525.25,1068.55 L526.00,1074.66 L526.25,1076.53 L528.00,1078.40 L528.25,1078.74 L540.50,1078.80 L551.50,1078.79 L554.00,1074.33 L555.75,1072.62 L556.00,1072.11 L556.75,1069.80 L557.00,1066.13 L557.50,1041.40 L557.75,1025.46 L558.00,1008.63 L558.25,1002.00 L558.50,997.97 L558.75,996.85 L559.00,996.85 L559.25,1000.36 L559.50,1004.45 L559.75,1018.73 L560.00,1035.56 L560.25,1048.82 L560.50,1061.18 L560.75,1069.82 L561.50,1074.96 L561.75,1076.53 L563.50,1078.40 L563.75,1078.74 L576.00,1078.80 L576.50,1078.49 L582.25,1073.69 L582.50,1073.65 L582.75,1073.76 L583.25,1074.81 L585.00,1073.32 L585.50,1059.22 L585.75,1051.86 L586.25,1034.72 L586.50,1030.30 L586.75,1028.22 L587.00,1026.56 L587.25,1026.15 L587.50,1026.15 L587.75,1027.39 L588.25,1031.55 L588.50,1039.86 L588.75,1048.43 L589.00,1056.40 L589.50,1070.50 L589.75,1073.79 L590.75,1076.94 L591.00,1077.32 L592.50,1078.68 L592.75,1078.80 L601.75,1078.75 L606.25,1073.75 L610.00,1065.15 L610.25,1065.15 L610.50,1065.84 L611.00,1069.28 L611.25,1069.77 L612.25,1048.78 L612.75,985.05 L613.00,949.49 L613.25,908.39 L613.50,872.27 L613.75,862.29 L614.00,853.15 L614.25,850.85 L614.50,850.85 L614.75,868.28 L615.00,914.78 L615.25,973.82 L615.50,1013.27 L615.75,1049.54 L616.50,1072.43 L616.75,1076.53 L618.50,1078.47 L618.75,1078.80 L623.00,1078.80 L624.00,1078.07 L626.75,1076.86 L627.00,1076.74 L627.50,1068.91 L627.75,1064.82 L628.25,1055.31 L628.50,1052.86 L628.75,1051.70 L629.00,1050.78 L629.25,1050.55 L629.50,1050.55 L629.75,1051.24 L630.25,1053.55 L630.50,1058.16 L630.75,1062.92 L631.00,1067.34 L631.50,1075.17 L631.75,1077.00 L632.75,1078.75 L647.00,1078.76 L649.50,1074.31 L651.25,1072.60 L651.50,1071.56 L652.25,1066.51 L652.50,1058.85 L653.00,1025.63 L653.25,1002.55 L653.50,980.88 L653.75,975.27 L654.00,970.25 L654.25,970.25 L654.50,974.15 L654.75,982.56 L655.00,1013.32 L655.25,1037.02 L655.50,1056.00 L655.75,1067.02 L656.50,1076.14 L656.75,1076.73 L658.25,1078.33 L658.50,1078.66 L658.75,1078.80 L660.75,1078.79 L661.00,1077.63 L661.50,1072.58 L661.75,1069.06 L662.00,1065.77 L662.50,1064.15 L662.75,1064.15 L663.00,1064.28 L663.25,1064.79 L663.50,1065.43 L663.75,1066.78 L664.25,1072.05 L664.75,1076.47 L665.00,1078.64 L665.25,1078.76 L675.75,1078.68 L676.00,1078.19 L676.75,1073.97 L677.00,1073.15 L677.50,1071.79 L677.75,1071.25 L678.00,1071.25 L678.25,1071.66 L679.00,1073.69 L679.75,1077.91 L680.00,1078.65 L687.00,1078.60 L687.75,1077.84 L688.75,1076.70 L690.75,1075.41 L691.50,1074.70 L691.75,1068.71 L692.00,1061.29 L692.25,1051.52 L692.50,1040.19 L692.75,1037.43 L693.00,1035.65 L693.25,1035.65 L693.50,1036.19 L693.75,1037.55 L694.00,1039.08 L694.25,1041.95 L694.75,1054.55 L695.00,1060.50 L695.50,1071.39 L695.75,1074.89 L697.00,1077.86 L697.75,1078.42 L698.25,1078.51 L713.25,1078.50 L713.50,1078.26 L715.75,1074.27 L717.50,1072.59 L717.75,1071.29 L718.50,1065.63 L718.75,1059.15 L719.25,1024.81 L719.50,1003.03 L719.75,980.10 L720.00,969.67 L720.25,964.10 L720.50,961.75 L720.75,961.75 L721.00,967.88 L721.25,979.64 L721.50,1009.45 L721.75,1033.08 L722.00,1052.60 L722.25,1065.59 L723.00,1075.22 L723.25,1076.66 L725.00,1078.50 L729.25,1078.50 L729.50,1076.66 L729.75,1074.63 L730.00,1071.97 L730.25,1069.14 L730.50,1068.20 L730.75,1067.55 L731.00,1067.45 L731.25,1067.51 L731.50,1067.93 L731.75,1068.48 L732.00,1069.71 L732.50,1074.22 L733.00,1077.84 L733.25,1078.50 L735.25,1078.45 L738.50,1077.79 L738.75,1077.35 L740.25,1072.14 L740.50,1064.86 L741.00,1047.11 L742.50,1007.24 L742.75,999.26 L744.00,932.70 L744.25,920.59 L745.50,864.11 L747.00,777.27 L747.25,764.92 L748.50,710.20 L748.75,700.69 L750.25,678.14 L752.00,653.17 L752.25,649.32 L753.50,629.15 L753.75,629.15 L754.00,841.52 L755.25,859.67 L755.50,1062.93 L757.00,1069.70 L759.50,1071.80 L759.75,1072.11 L760.00,1072.87 L760.25,1073.36 L762.00,1073.00 L766.50,1073.87 L766.75,1072.70 L767.00,1069.81 L767.50,1063.22 L768.00,1061.63 L768.25,1061.25 L768.50,1061.25 L768.75,1061.50 L769.25,1063.07 L769.50,1065.86 L769.75,1069.15 L770.00,1072.18 L770.25,1074.59 L776.25,1075.67 L783.00,1076.57 L783.25,1076.36 L783.75,1073.83 L784.75,1071.37 L785.00,1071.25 L785.25,1071.37 L786.25,1073.83 L786.75,1076.36 L787.00,1077.10 L790.75,1077.54 L800.75,1077.99 L810.25,1077.83 L810.50,1077.69 L811.00,1072.22 L811.25,1069.01 L811.50,1065.48 L811.75,1062.92 L812.00,1062.06 L812.25,1061.35 L812.50,1061.25 L812.75,1061.35 L813.00,1062.06 L813.25,1062.92 L813.50,1065.48 L813.75,1069.01 L814.00,1072.22 L814.50,1077.69 L816.00,1077.73 L823.00,1077.62 L823.25,1077.36 L824.00,1076.23 L824.25,1075.95 L824.50,1075.95 L824.75,1076.16 L825.75,1077.57 L831.00,1077.55 L833.25,1077.66 L833.50,1077.52 L834.00,1071.13 L834.25,1067.80 L834.75,1060.03 L835.00,1058.03 L835.25,1057.09 L835.50,1056.34 L835.75,1056.15 L836.00,1056.15 L836.25,1056.71 L836.75,1058.60 L837.25,1066.25 L837.50,1069.85 L838.00,1076.24 L838.25,1077.81 L838.75,1077.94 L851.25,1078.50 L857.50,1078.52 L857.75,1077.30 L858.50,1072.26 L859.25,1069.84 L859.50,1069.35 L859.75,1069.35 L860.00,1070.00 L860.50,1071.62 L860.75,1072.60 L861.50,1077.64 L861.75,1078.52 L875.50,1078.55 L876.50,1077.77 L879.00,1076.58 L879.50,1076.30 L880.00,1067.68 L880.25,1063.18 L880.75,1052.69 L881.00,1049.99 L881.25,1048.72 L881.50,1047.70 L881.75,1047.45 L882.00,1047.45 L882.25,1048.21 L882.75,1050.75 L883.00,1055.84 L883.25,1061.08 L883.50,1065.95 L884.00,1074.58 L884.25,1076.59 L885.25,1078.52 L892.25,1078.58 L892.50,1077.76 L893.00,1074.33 L893.50,1070.15 L893.75,1068.76 L894.25,1067.80 L894.50,1067.65 L894.75,1067.65 L895.00,1067.85 L895.50,1068.86 L895.75,1070.57 L896.25,1074.67 L896.75,1078.10 L897.00,1078.59 L904.50,1078.61 L905.00,1078.12 L906.50,1076.43 L908.75,1074.94 L909.25,1074.56 L909.50,1072.03 L910.00,1059.98 L910.25,1053.18 L910.50,1045.86 L910.75,1038.76 L911.25,1035.21 L911.50,1034.15 L911.75,1034.15 L912.00,1034.50 L912.25,1035.92 L912.50,1037.70 L912.75,1041.47 L913.25,1056.11 L913.50,1062.39 L914.00,1074.44 L915.25,1077.74 L916.25,1078.52 L916.75,1078.63 L936.50,1078.67 L936.75,1077.30 L937.50,1072.26 L938.25,1069.84 L938.50,1069.35 L938.75,1069.35 L939.00,1070.00 L939.50,1071.62 L939.75,1072.60 L940.50,1077.64 L940.75,1078.68 L983.50,1078.77 L983.75,1078.70 L986.25,1074.24 L988.00,1072.57 L988.25,1071.74 L989.00,1068.47 L989.25,1061.68 L989.75,1034.12 L990.25,996.62 L990.50,992.07 L990.75,987.88 L991.00,987.25 L991.25,987.88 L991.50,992.07 L991.75,996.62 L992.25,1034.12 L992.75,1061.68 L993.00,1068.99 L993.75,1075.08 L994.00,1076.58 L995.75,1078.47 L996.00,1078.79 L1009.00,1078.71 L1011.50,1074.33 L1013.25,1072.62 L1013.50,1071.96 L1014.25,1068.69 L1014.50,1064.43 L1015.00,1036.88 L1015.25,1019.12 L1015.50,1000.37 L1015.75,992.98 L1016.00,988.50 L1016.25,987.25 L1016.50,987.25 L1016.75,991.16 L1017.00,995.71 L1017.25,1011.63 L1017.50,1030.38 L1017.75,1045.15 L1018.00,1058.92 L1018.25,1068.59 L1019.00,1074.67 L1019.25,1076.53 L1021.00,1078.40 L1021.25,1078.59 L1034.50,1078.55 L1059.00,1078.79 L1059.25,1077.68 L1059.75,1075.13 L1060.00,1074.12 L1060.75,1072.27 L1061.00,1072.15 L1061.25,1072.27 L1062.00,1074.12 L1062.25,1075.13 L1062.75,1077.68 L1063.00,1078.83 L1069.00,1078.89 L1069.25,1078.79 L1069.75,1075.35 L1070.00,1073.49 L1070.50,1069.32 L1070.75,1068.56 L1071.00,1068.05 L1071.25,1067.70 L1071.75,1067.70 L1072.00,1068.05 L1072.25,1068.56 L1072.50,1069.32 L1073.00,1073.49 L1073.25,1075.35 L1073.75,1078.79 L1074.00,1078.94 L1085.75,1079.04 L1088.00,1076.12 L1090.50,1074.24 L1091.00,1073.81 L1091.25,1069.72 L1091.75,1056.36 L1092.00,1048.53 L1092.25,1040.41 L1092.50,1033.77 L1093.00,1029.83 L1093.25,1029.05 L1093.50,1029.05 L1093.75,1029.63 L1094.00,1031.41 L1094.25,1033.38 L1094.50,1038.79 L1095.00,1055.02 L1095.50,1068.38 L1095.75,1073.88 L1096.75,1076.86 L1097.00,1077.43 L1099.00,1079.19 L1109.50,1079.60 L1148.25,1079.60 L1149.50,1078.11 L1150.50,1077.45 L1151.00,1077.51 L1151.75,1077.96 L1153.00,1079.48 L1153.25,1079.60 L1226.75,1079.60 L1227.00,1079.45 L1228.25,1077.58 L1229.00,1077.02 L1229.50,1076.95 L1230.50,1077.77 L1231.50,1079.29 L1231.75,1079.60 L1262.25,1079.60 L1262.50,1079.50 L1263.75,1078.34 L1264.75,1077.95 L1265.25,1078.06 L1266.00,1078.46 L1267.25,1079.60 L1382.50,1079.66 L1382.75,1079.66 L1383.00,1081.17 L1390.00,1081.33 L1390.25,1079.84 L1429.50,1080.75 L1431.00,1079.96 L1432.00,1079.75 L1433.25,1080.14 L1434.50,1080.87 L1444.75,1081.00 L1449.50,1081.00 L1451.00,1080.03 L1452.00,1079.75 L1453.00,1080.03 L1454.50,1081.00 L1472.50,1081.00 L1473.25,1080.46 L1474.00,1079.87 L1474.75,1079.57 L1475.25,1079.57 L1476.25,1080.04 L1477.25,1080.87 L1477.50,1081.00 L1528.50,1081.00 L1530.00,1080.18 L1531.00,1079.95 L1532.25,1080.30 L1533.50,1081.00 L1711.25,1080.96 L1712.50,1079.91 L1713.50,1079.55 L1714.00,1079.63 L1714.75,1079.95 L1716.00,1081.00 L1746.50,1081.00 L1747.25,1080.46 L1748.00,1079.87 L1748.75,1079.57 L1749.25,1079.57 L1750.25,1080.04 L1751.25,1080.87 L1751.50,1081.00 L1838.00,1081.00 L1839.25,1079.23 L1840.25,1078.55 L1840.75,1078.65 L1841.50,1079.16 L1842.75,1080.93 L1844.25,1081.00 L2163.50,1081.00" fill="none" stroke="#000000" stroke-width="7.5" stroke-linejoin="round" stroke-linecap="butt"/>
<path d="M97.00,1565.00 L130.00,1565.00 L130.50,1564.57 L131.50,1563.56 L132.25,1563.18 L132.75,1563.18 L133.50,1563.56 L134.75,1564.84 L135.00,1565.00 L477.25,1565.00 L477.75,1564.74 L481.25,1562.51 L484.00,1561.49 L484.25,1559.50 L484.75,1552.98 L485.00,1549.16 L485.25,1545.20 L485.50,1541.95 L486.00,1540.03 L486.25,1539.65 L486.50,1539.65 L486.75,1539.94 L487.25,1541.76 L487.50,1544.40 L488.00,1552.33 L488.50,1558.84 L488.75,1561.52 L489.75,1562.98 L490.00,1563.26 L492.25,1564.27 L493.75,1565.00 L520.00,1565.00 L520.25,1564.69 L521.25,1562.64 L521.50,1562.24 L522.25,1561.50 L522.75,1561.50 L523.50,1562.24 L524.00,1563.16 L524.75,1564.69 L525.00,1565.00 L538.50,1565.00 L539.75,1562.44 L540.75,1561.45 L541.00,1561.45 L541.50,1561.84 L542.00,1562.34 L543.25,1564.90 L543.75,1565.00 L585.75,1565.00 L586.25,1564.08 L587.00,1562.54 L587.50,1561.94 L588.00,1561.45 L588.50,1561.55 L589.25,1562.29 L590.50,1564.80 L590.75,1565.00 L602.00,1565.00 L602.25,1564.89 L604.00,1562.21 L605.75,1559.72 L606.50,1559.06 L608.25,1557.63 L608.75,1557.17 L609.00,1554.10 L609.50,1539.45 L609.75,1531.19 L610.00,1522.29 L610.25,1513.66 L610.75,1509.34 L611.00,1508.05 L611.25,1508.05 L611.50,1508.48 L611.75,1510.20 L612.00,1512.36 L612.25,1516.95 L612.75,1534.75 L613.00,1542.38 L613.50,1557.03 L614.75,1561.04 L616.50,1562.70 L618.25,1564.80 L618.50,1565.00 L628.00,1565.00 L628.50,1564.55 L629.50,1563.48 L630.25,1563.08 L630.75,1563.08 L631.50,1563.48 L632.75,1564.83 L633.00,1565.00 L650.75,1565.00 L651.00,1564.80 L652.25,1562.29 L653.00,1561.55 L653.50,1561.45 L654.25,1562.19 L654.50,1562.54 L655.50,1564.59 L655.75,1565.00 L690.50,1565.00 L690.75,1564.90 L692.00,1562.34 L692.75,1561.60 L693.00,1561.45 L693.25,1561.45 L694.25,1562.44 L695.50,1565.00 L711.50,1564.95 L716.00,1564.42 L716.75,1564.30 L717.75,1563.21 L718.00,1562.33 L718.50,1558.74 L718.75,1556.72 L719.25,1552.42 L719.75,1551.37 L720.00,1551.05 L720.50,1551.15 L721.00,1552.11 L721.25,1553.23 L721.75,1557.59 L722.50,1563.05 L723.75,1564.38 L727.75,1565.00 L741.25,1565.00 L741.50,1563.98 L742.50,1558.87 L742.75,1557.99 L743.50,1556.15 L743.75,1556.15 L744.00,1556.40 L744.75,1558.24 L745.00,1559.38 L746.00,1564.49 L746.25,1565.00 L786.00,1565.00 L787.25,1562.44 L788.25,1561.45 L788.50,1561.45 L789.00,1561.84 L789.50,1562.34 L790.75,1564.90 L791.25,1565.00 L803.50,1565.00 L804.75,1563.67 L805.75,1563.15 L806.25,1563.23 L807.00,1563.61 L808.25,1564.95 L831.50,1564.96 L835.50,1564.15 L836.75,1564.01 L837.00,1563.62 L837.50,1562.41 L837.75,1561.14 L838.00,1557.21 L838.25,1552.70 L838.50,1545.88 L838.75,1543.81 L839.00,1543.15 L839.25,1543.81 L839.50,1545.88 L839.75,1552.70 L840.00,1557.21 L840.25,1561.14 L840.50,1562.40 L841.00,1563.61 L841.25,1564.02 L843.25,1564.50 L843.50,1564.07 L844.75,1557.31 L845.75,1554.68 L846.00,1554.55 L846.25,1554.59 L849.50,1557.02 L849.75,1557.30 L853.75,1564.50 L856.00,1564.45 L877.75,1559.95 L878.75,1558.19 L880.50,1556.49 L880.75,1555.55 L881.50,1551.31 L881.75,1538.06 L882.00,1521.85 L882.25,1500.52 L882.50,1475.76 L882.75,1469.74 L883.00,1465.85 L883.25,1465.85 L883.75,1466.92 L884.00,1467.88 L885.00,1475.17 L885.25,1480.85 L886.25,1510.86 L886.50,1518.53 L887.50,1550.22 L887.75,1552.08 L888.25,1554.38 L893.00,1544.87 L897.00,1552.86 L897.25,1552.35 L898.00,1528.66 L898.75,1502.80 L899.00,1498.35 L899.50,1494.17 L899.75,1492.95 L900.00,1492.45 L900.25,1492.45 L900.75,1493.20 L901.00,1493.79 L902.00,1498.96 L902.25,1502.03 L903.50,1528.65 L904.50,1551.31 L904.75,1554.99 L906.50,1559.84 L906.75,1560.41 L908.50,1562.30 L920.25,1561.76 L930.25,1559.68 L939.00,1555.77 L946.50,1556.20 L946.75,1553.64 L947.25,1546.86 L947.50,1543.63 L948.00,1541.95 L948.25,1541.43 L948.50,1541.35 L948.75,1541.45 L949.00,1542.17 L949.25,1543.12 L949.50,1545.25 L950.00,1553.05 L950.25,1556.17 L950.50,1556.43 L956.25,1556.79 L960.25,1557.67 L961.25,1557.05 L961.50,1555.39 L963.25,1519.36 L963.50,1514.52 L964.25,1510.76 L964.50,1509.75 L964.75,1509.31 L965.00,1509.05 L965.25,1509.05 L965.50,1510.37 L965.75,1512.78 L966.00,1517.00 L966.50,1536.88 L967.00,1552.30 L967.25,1557.27 L967.75,1558.99 L968.00,1559.29 L978.00,1561.19 L986.50,1559.40 L988.75,1557.70 L989.50,1557.04 L989.75,1554.81 L990.25,1541.00 L990.50,1533.59 L991.00,1517.23 L991.25,1513.26 L991.50,1511.28 L991.75,1509.61 L992.00,1509.05 L992.25,1509.05 L992.50,1510.11 L993.00,1514.61 L993.50,1533.15 L993.75,1541.30 L994.25,1556.13 L994.50,1557.53 L998.00,1556.65 L1002.50,1558.44 L1002.75,1547.13 L1004.75,1441.69 L1005.00,1432.43 L1008.00,1333.07 L1008.25,1325.08 L1011.25,1243.36 L1011.50,1238.67 L1015.50,1172.19 L1015.75,1167.28 L1017.25,1134.80 L1017.50,1131.55 L1017.75,1131.55 L1018.00,1159.70 L1019.00,1300.44 L1019.50,1521.30 L1021.25,1553.21 L1021.50,1556.66 L1021.75,1558.47 L1022.00,1558.74 L1023.00,1558.78 L1023.50,1558.40 L1023.75,1557.61 L1024.25,1545.47 L1024.50,1538.79 L1025.00,1523.61 L1025.50,1519.92 L1025.75,1519.05 L1026.00,1519.05 L1026.25,1519.56 L1026.50,1521.11 L1026.75,1522.84 L1027.00,1527.59 L1027.50,1541.82 L1028.00,1553.53 L1028.25,1558.34 L1028.50,1559.00 L1028.75,1559.21 L1041.25,1560.22 L1045.75,1560.55 L1047.50,1560.55 L1048.00,1559.97 L1050.00,1558.61 L1050.75,1557.91 L1051.00,1554.86 L1051.50,1540.35 L1051.75,1530.26 L1052.00,1520.79 L1052.25,1518.35 L1052.50,1516.15 L1052.75,1516.15 L1053.00,1516.36 L1053.25,1516.87 L1054.00,1520.88 L1054.25,1526.04 L1054.75,1537.04 L1055.00,1542.39 L1055.75,1557.76 L1057.00,1560.53 L1061.00,1560.52 L1061.25,1559.77 L1061.50,1557.74 L1061.75,1555.42 L1062.00,1552.89 L1062.25,1550.75 L1062.75,1549.55 L1063.00,1549.35 L1063.50,1549.46 L1063.75,1549.61 L1064.50,1550.72 L1064.75,1551.77 L1066.00,1559.29 L1066.25,1560.51 L1073.25,1560.39 L1086.00,1559.99 L1091.50,1560.06 L1091.75,1557.88 L1092.25,1550.74 L1092.50,1547.02 L1093.00,1539.09 L1093.25,1535.73 L1093.75,1533.80 L1094.00,1533.07 L1094.25,1532.75 L1094.50,1532.75 L1094.75,1533.16 L1095.25,1535.66 L1095.50,1540.14 L1095.75,1545.43 L1096.00,1550.29 L1096.50,1558.74 L1096.75,1560.18 L1098.75,1560.17 L1100.50,1559.13 L1101.00,1558.77 L1101.25,1558.06 L1101.75,1546.97 L1102.00,1540.87 L1102.50,1527.01 L1103.00,1523.64 L1103.25,1522.85 L1103.50,1522.85 L1103.75,1523.06 L1104.00,1523.40 L1104.25,1524.25 L1104.75,1526.19 L1105.00,1527.64 L1106.25,1547.57 L1106.75,1555.45 L1107.00,1558.69 L1108.00,1560.38 L1130.25,1561.01 L1130.50,1560.43 L1132.00,1538.09 L1133.25,1475.90 L1133.50,1466.74 L1135.00,1441.22 L1135.25,1438.77 L1136.25,1433.71 L1136.50,1432.95 L1136.75,1432.95 L1137.00,1447.14 L1137.25,1464.88 L1137.50,1478.38 L1138.50,1528.13 L1138.75,1539.32 L1139.50,1557.93 L1139.75,1560.81 L1140.00,1561.23 L1145.50,1561.39 L1145.75,1561.27 L1146.25,1558.09 L1146.50,1556.75 L1147.00,1555.18 L1147.25,1554.55 L1147.50,1554.55 L1148.00,1554.92 L1150.25,1556.99 L1152.50,1561.88 L1152.75,1562.10 L1160.75,1562.82 L1193.75,1563.17 L1194.00,1562.90 L1195.50,1557.24 L1195.75,1556.67 L1197.00,1554.55 L1197.25,1554.55 L1197.50,1554.72 L1198.75,1556.83 L1199.00,1557.61 L1200.50,1563.26 L1215.75,1564.20 L1236.50,1564.20 L1236.75,1563.99 L1238.00,1562.29 L1238.75,1561.78 L1239.25,1561.78 L1240.00,1562.29 L1241.25,1563.99 L1241.50,1564.20 L1278.50,1564.20 L1278.75,1564.01 L1280.00,1562.45 L1280.75,1561.98 L1281.25,1561.98 L1282.00,1562.45 L1283.25,1564.01 L1283.50,1564.20 L1317.50,1564.20 L1318.00,1563.82 L1319.00,1562.92 L1319.75,1562.57 L1320.25,1562.57 L1321.25,1563.11 L1322.25,1564.06 L1322.50,1564.20 L1337.50,1564.20 L1337.75,1564.01 L1339.00,1562.45 L1339.75,1561.98 L1340.25,1561.98 L1341.00,1562.45 L1342.25,1564.01 L1342.50,1564.20 L1373.00,1564.19 L1376.75,1561.09 L1380.00,1559.95 L1380.75,1560.11 L1383.25,1560.97 L1387.25,1564.20 L1420.25,1564.16 L1421.25,1563.29 L1421.50,1562.84 L1427.00,1545.44 L1427.25,1544.72 L1428.00,1543.35 L1428.25,1543.35 L1428.50,1543.70 L1429.00,1545.43 L1430.75,1561.65 L1431.00,1562.41 L1432.25,1564.20 L1447.50,1564.20 L1448.25,1563.66 L1449.00,1563.07 L1449.75,1562.77 L1450.25,1562.77 L1451.25,1563.24 L1452.25,1564.07 L1452.50,1564.20 L1472.50,1564.20 L1473.00,1563.82 L1474.00,1562.92 L1474.75,1562.57 L1475.25,1562.57 L1476.25,1563.11 L1477.25,1564.06 L1477.50,1564.20 L1497.50,1564.20 L1498.25,1563.66 L1499.00,1563.07 L1499.75,1562.77 L1500.25,1562.77 L1501.25,1563.24 L1502.25,1564.07 L1502.50,1564.20 L1527.50,1564.20 L1528.25,1563.66 L1529.00,1563.07 L1529.75,1562.77 L1530.25,1562.77 L1531.25,1563.24 L1532.25,1564.07 L1532.50,1564.20 L1611.25,1564.20 L1613.50,1562.99 L1613.75,1562.45 L1622.75,1532.84 L1629.50,1504.72 L1630.00,1503.04 L1630.50,1501.47 L1630.75,1501.15 L1631.00,1501.15 L1631.50,1504.30 L1633.00,1554.74 L1635.75,1564.03 L1636.00,1564.20 L1652.50,1564.40 L1652.75,1564.12 L1653.75,1562.24 L1654.00,1561.87 L1654.75,1561.19 L1655.25,1561.20 L1656.00,1561.90 L1656.50,1562.76 L1657.25,1564.19 L1657.50,1564.48 L1667.50,1564.64 L1668.00,1564.20 L1669.00,1563.16 L1669.75,1562.77 L1670.25,1562.78 L1671.00,1563.19 L1672.25,1564.55 L1672.50,1564.72 L1694.75,1565.00 L1710.50,1565.00 L1712.00,1564.03 L1713.00,1563.75 L1714.00,1564.03 L1715.50,1565.00 L1803.50,1565.00 L1805.00,1564.03 L1806.00,1563.75 L1807.00,1564.03 L1808.50,1565.00 L2163.50,1565.00" fill="none" stroke="#0000ff" stroke-width="8.3" stroke-linejoin="round" stroke-linecap="butt"/>
<path transform="translate(0.35,0)" d="M97.00,1565.00 L130.00,1565.00 L130.50,1564.57 L131.50,1563.56 L132.25,1563.18 L132.75,1563.18 L133.50,1563.56 L134.75,1564.84 L135.00,1565.00 L477.25,1565.00 L477.75,1564.74 L481.25,1562.51 L484.00,1561.49 L484.25,1559.50 L484.75,1552.98 L485.00,1549.16 L485.25,1545.20 L485.50,1541.95 L486.00,1540.03 L486.25,1539.65 L486.50,1539.65 L486.75,1539.94 L487.25,1541.76 L487.50,1544.40 L488.00,1552.33 L488.50,1558.84 L488.75,1561.52 L489.75,1562.98 L490.00,1563.26 L492.25,1564.27 L493.75,1565.00 L520.00,1565.00 L520.25,1564.69 L521.25,1562.64 L521.50,1562.24 L522.25,1561.50 L522.75,1561.50 L523.50,1562.24 L524.00,1563.16 L524.75,1564.69 L525.00,1565.00 L538.50,1565.00 L539.75,1562.44 L540.75,1561.45 L541.00,1561.45 L541.50,1561.84 L542.00,1562.34 L543.25,1564.90 L543.75,1565.00 L585.75,1565.00 L586.25,1564.08 L587.00,1562.54 L587.50,1561.94 L588.00,1561.45 L588.50,1561.55 L589.25,1562.29 L590.50,1564.80 L590.75,1565.00 L602.00,1565.00 L602.25,1564.89 L604.00,1562.21 L605.75,1559.72 L606.50,1559.06 L608.25,1557.63 L608.75,1557.17 L609.00,1554.10 L609.50,1539.45 L609.75,1531.19 L610.00,1522.29 L610.25,1513.66 L610.75,1509.34 L611.00,1508.05 L611.25,1508.05 L611.50,1508.48 L611.75,1510.20 L612.00,1512.36 L612.25,1516.95 L612.75,1534.75 L613.00,1542.38 L613.50,1557.03 L614.75,1561.04 L616.50,1562.70 L618.25,1564.80 L618.50,1565.00 L628.00,1565.00 L628.50,1564.55 L629.50,1563.48 L630.25,1563.08 L630.75,1563.08 L631.50,1563.48 L632.75,1564.83 L633.00,1565.00 L650.75,1565.00 L651.00,1564.80 L652.25,1562.29 L653.00,1561.55 L653.50,1561.45 L654.25,1562.19 L654.50,1562.54 L655.50,1564.59 L655.75,1565.00 L690.50,1565.00 L690.75,1564.90 L692.00,1562.34 L692.75,1561.60 L693.00,1561.45 L693.25,1561.45 L694.25,1562.44 L695.50,1565.00 L711.50,1564.95 L716.00,1564.42 L716.75,1564.30 L717.75,1563.21 L718.00,1562.33 L718.50,1558.74 L718.75,1556.72 L719.25,1552.42 L719.75,1551.37 L720.00,1551.05 L720.50,1551.15 L721.00,1552.11 L721.25,1553.23 L721.75,1557.59 L722.50,1563.05 L723.75,1564.38 L727.75,1565.00 L741.25,1565.00 L741.50,1563.98 L742.50,1558.87 L742.75,1557.99 L743.50,1556.15 L743.75,1556.15 L744.00,1556.40 L744.75,1558.24 L745.00,1559.38 L746.00,1564.49 L746.25,1565.00 L786.00,1565.00 L787.25,1562.44 L788.25,1561.45 L788.50,1561.45 L789.00,1561.84 L789.50,1562.34 L790.75,1564.90 L791.25,1565.00 L803.50,1565.00 L804.75,1563.67 L805.75,1563.15 L806.25,1563.23 L807.00,1563.61 L808.25,1564.95 L831.50,1564.96 L835.50,1564.15 L836.75,1564.01 L837.00,1563.62 L837.50,1562.41 L837.75,1561.14 L838.00,1557.21 L838.25,1552.70 L838.50,1545.88 L838.75,1543.81 L839.00,1543.15 L839.25,1543.81 L839.50,1545.88 L839.75,1552.70 L840.00,1557.21 L840.25,1561.14 L840.50,1562.40 L841.00,1563.61 L841.25,1564.02 L843.25,1564.50 L843.50,1564.07 L844.75,1557.31 L845.75,1554.68 L846.00,1554.55 L846.25,1554.59 L849.50,1557.02 L849.75,1557.30 L853.75,1564.50 L856.00,1564.45 L877.75,1559.95 L878.75,1558.19 L880.50,1556.49 L880.75,1555.55 L881.50,1551.31 L881.75,1538.06 L882.00,1521.85 L882.25,1500.52 L882.50,1475.76 L882.75,1469.74 L883.00,1465.85 L883.25,1465.85 L883.75,1466.92 L884.00,1467.88 L885.00,1475.17 L885.25,1480.85 L886.25,1510.86 L886.50,1518.53 L887.50,1550.22 L887.75,1552.08 L888.25,1554.38 L893.00,1544.87 L897.00,1552.86 L897.25,1552.35 L898.00,1528.66 L898.75,1502.80 L899.00,1498.35 L899.50,1494.17 L899.75,1492.95 L900.00,1492.45 L900.25,1492.45 L900.75,1493.20 L901.00,1493.79 L902.00,1498.96 L902.25,1502.03 L903.50,1528.65 L904.50,1551.31 L904.75,1554.99 L906.50,1559.84 L906.75,1560.41 L908.50,1562.30 L920.25,1561.76 L930.25,1559.68 L939.00,1555.77 L946.50,1556.20 L946.75,1553.64 L947.25,1546.86 L947.50,1543.63 L948.00,1541.95 L948.25,1541.43 L948.50,1541.35 L948.75,1541.45 L949.00,1542.17 L949.25,1543.12 L949.50,1545.25 L950.00,1553.05 L950.25,1556.17 L950.50,1556.43 L956.25,1556.79 L960.25,1557.67 L961.25,1557.05 L961.50,1555.39 L963.25,1519.36 L963.50,1514.52 L964.25,1510.76 L964.50,1509.75 L964.75,1509.31 L965.00,1509.05 L965.25,1509.05 L965.50,1510.37 L965.75,1512.78 L966.00,1517.00 L966.50,1536.88 L967.00,1552.30 L967.25,1557.27 L967.75,1558.99 L968.00,1559.29 L978.00,1561.19 L986.50,1559.40 L988.75,1557.70 L989.50,1557.04 L989.75,1554.81 L990.25,1541.00 L990.50,1533.59 L991.00,1517.23 L991.25,1513.26 L991.50,1511.28 L991.75,1509.61 L992.00,1509.05 L992.25,1509.05 L992.50,1510.11 L993.00,1514.61 L993.50,1533.15 L993.75,1541.30 L994.25,1556.13 L994.50,1557.53 L998.00,1556.65 L1002.50,1558.44 L1002.75,1547.13 L1004.75,1441.69 L1005.00,1432.43 L1008.00,1333.07 L1008.25,1325.08 L1011.25,1243.36 L1011.50,1238.67 L1015.50,1172.19 L1015.75,1167.28 L1017.25,1134.80 L1017.50,1131.55 L1017.75,1131.55 L1018.00,1159.70 L1019.00,1300.44 L1019.50,1521.30 L1021.25,1553.21 L1021.50,1556.66 L1021.75,1558.47 L1022.00,1558.74 L1023.00,1558.78 L1023.50,1558.40 L1023.75,1557.61 L1024.25,1545.47 L1024.50,1538.79 L1025.00,1523.61 L1025.50,1519.92 L1025.75,1519.05 L1026.00,1519.05 L1026.25,1519.56 L1026.50,1521.11 L1026.75,1522.84 L1027.00,1527.59 L1027.50,1541.82 L1028.00,1553.53 L1028.25,1558.34 L1028.50,1559.00 L1028.75,1559.21 L1041.25,1560.22 L1045.75,1560.55 L1047.50,1560.55 L1048.00,1559.97 L1050.00,1558.61 L1050.75,1557.91 L1051.00,1554.86 L1051.50,1540.35 L1051.75,1530.26 L1052.00,1520.79 L1052.25,1518.35 L1052.50,1516.15 L1052.75,1516.15 L1053.00,1516.36 L1053.25,1516.87 L1054.00,1520.88 L1054.25,1526.04 L1054.75,1537.04 L1055.00,1542.39 L1055.75,1557.76 L1057.00,1560.53 L1061.00,1560.52 L1061.25,1559.77 L1061.50,1557.74 L1061.75,1555.42 L1062.00,1552.89 L1062.25,1550.75 L1062.75,1549.55 L1063.00,1549.35 L1063.50,1549.46 L1063.75,1549.61 L1064.50,1550.72 L1064.75,1551.77 L1066.00,1559.29 L1066.25,1560.51 L1073.25,1560.39 L1086.00,1559.99 L1091.50,1560.06 L1091.75,1557.88 L1092.25,1550.74 L1092.50,1547.02 L1093.00,1539.09 L1093.25,1535.73 L1093.75,1533.80 L1094.00,1533.07 L1094.25,1532.75 L1094.50,1532.75 L1094.75,1533.16 L1095.25,1535.66 L1095.50,1540.14 L1095.75,1545.43 L1096.00,1550.29 L1096.50,1558.74 L1096.75,1560.18 L1098.75,1560.17 L1100.50,1559.13 L1101.00,1558.77 L1101.25,1558.06 L1101.75,1546.97 L1102.00,1540.87 L1102.50,1527.01 L1103.00,1523.64 L1103.25,1522.85 L1103.50,1522.85 L1103.75,1523.06 L1104.00,1523.40 L1104.25,1524.25 L1104.75,1526.19 L1105.00,1527.64 L1106.25,1547.57 L1106.75,1555.45 L1107.00,1558.69 L1108.00,1560.38 L1130.25,1561.01 L1130.50,1560.43 L1132.00,1538.09 L1133.25,1475.90 L1133.50,1466.74 L1135.00,1441.22 L1135.25,1438.77 L1136.25,1433.71 L1136.50,1432.95 L1136.75,1432.95 L1137.00,1447.14 L1137.25,1464.88 L1137.50,1478.38 L1138.50,1528.13 L1138.75,1539.32 L1139.50,1557.93 L1139.75,1560.81 L1140.00,1561.23 L1145.50,1561.39 L1145.75,1561.27 L1146.25,1558.09 L1146.50,1556.75 L1147.00,1555.18 L1147.25,1554.55 L1147.50,1554.55 L1148.00,1554.92 L1150.25,1556.99 L1152.50,1561.88 L1152.75,1562.10 L1160.75,1562.82 L1193.75,1563.17 L1194.00,1562.90 L1195.50,1557.24 L1195.75,1556.67 L1197.00,1554.55 L1197.25,1554.55 L1197.50,1554.72 L1198.75,1556.83 L1199.00,1557.61 L1200.50,1563.26 L1215.75,1564.20 L1236.50,1564.20 L1236.75,1563.99 L1238.00,1562.29 L1238.75,1561.78 L1239.25,1561.78 L1240.00,1562.29 L1241.25,1563.99 L1241.50,1564.20 L1278.50,1564.20 L1278.75,1564.01 L1280.00,1562.45 L1280.75,1561.98 L1281.25,1561.98 L1282.00,1562.45 L1283.25,1564.01 L1283.50,1564.20 L1317.50,1564.20 L1318.00,1563.82 L1319.00,1562.92 L1319.75,1562.57 L1320.25,1562.57 L1321.25,1563.11 L1322.25,1564.06 L1322.50,1564.20 L1337.50,1564.20 L1337.75,1564.01 L1339.00,1562.45 L1339.75,1561.98 L1340.25,1561.98 L1341.00,1562.45 L1342.25,1564.01 L1342.50,1564.20 L1373.00,1564.19 L1376.75,1561.09 L1380.00,1559.95 L1380.75,1560.11 L1383.25,1560.97 L1387.25,1564.20 L1420.25,1564.16 L1421.25,1563.29 L1421.50,1562.84 L1427.00,1545.44 L1427.25,1544.72 L1428.00,1543.35 L1428.25,1543.35 L1428.50,1543.70 L1429.00,1545.43 L1430.75,1561.65 L1431.00,1562.41 L1432.25,1564.20 L1447.50,1564.20 L1448.25,1563.66 L1449.00,1563.07 L1449.75,1562.77 L1450.25,1562.77 L1451.25,1563.24 L1452.25,1564.07 L1452.50,1564.20 L1472.50,1564.20 L1473.00,1563.82 L1474.00,1562.92 L1474.75,1562.57 L1475.25,1562.57 L1476.25,1563.11 L1477.25,1564.06 L1477.50,1564.20 L1497.50,1564.20 L1498.25,1563.66 L1499.00,1563.07 L1499.75,1562.77 L1500.25,1562.77 L1501.25,1563.24 L1502.25,1564.07 L1502.50,1564.20 L1527.50,1564.20 L1528.25,1563.66 L1529.00,1563.07 L1529.75,1562.77 L1530.25,1562.77 L1531.25,1563.24 L1532.25,1564.07 L1532.50,1564.20 L1611.25,1564.20 L1613.50,1562.99 L1613.75,1562.45 L1622.75,1532.84 L1629.50,1504.72 L1630.00,1503.04 L1630.50,1501.47 L1630.75,1501.15 L1631.00,1501.15 L1631.50,1504.30 L1633.00,1554.74 L1635.75,1564.03 L1636.00,1564.20 L1652.50,1564.40 L1652.75,1564.12 L1653.75,1562.24 L1654.00,1561.87 L1654.75,1561.19 L1655.25,1561.20 L1656.00,1561.90 L1656.50,1562.76 L1657.25,1564.19 L1657.50,1564.48 L1667.50,1564.64 L1668.00,1564.20 L1669.00,1563.16 L1669.75,1562.77 L1670.25,1562.78 L1671.00,1563.19 L1672.25,1564.55 L1672.50,1564.72 L1694.75,1565.00 L1710.50,1565.00 L1712.00,1564.03 L1713.00,1563.75 L1714.00,1564.03 L1715.50,1565.00 L1803.50,1565.00 L1805.00,1564.03 L1806.00,1563.75 L1807.00,1564.03 L1808.50,1565.00 L2163.50,1565.00" fill="none" stroke="#0000ff" stroke-width="7.5" stroke-linejoin="round" stroke-linecap="butt"/>
<text class="tk" x="97.5" y="1674">20</text>
<text class="tk" x="613.5" y="1674">25</text>
<text class="tk" x="1130.5" y="1674">30</text>
<text class="tk" x="1645.5" y="1674">35</text>
<text class="tk" x="2161.5" y="1674">40</text>
<text class="pk" x="608.7" y="394.3">1</text>
<text class="pk" x="629.3" y="487.2">2</text>
<text class="pk" x="769" y="484">3</text>
<text class="pk" x="849" y="307.3">4</text>
<text class="pk" x="1021" y="166">5</text>
<text class="pk" x="1093" y="477">6</text>
<text class="pk" x="1391" y="349.7">7</text>
<text class="pk" x="522.4" y="955.8">8</text>
<text class="pk" x="589.4" y="1009.9">9</text>
<text class="pk" x="615.4" y="828.3">1</text>
<text class="pk" x="634.1" y="1029.7">2</text>
<text class="pk" x="761.5" y="611.2">10</text>
<text class="pk" x="916.5" y="1010">11</text>
<text class="pk" x="1016.3" y="950.8">5</text>
<text class="pk" x="1094.2" y="998.1">6</text>
<text class="pk" x="610.4" y="1481.9">1</text>
<text class="pk" x="881.9" y="1435">12</text>
<text class="pk" x="978.5" y="1475.4">13</text>
<text class="pk" x="1021.5" y="1123.9">14</text>
<text class="pk" x="1101.4" y="1496.6">6</text>
<text class="pk" x="1138.5" y="1409.6">15</text>
<text class="pk" x="1633.8" y="1475">16</text>
<text class="ab" x="1749" y="275">a</text>
<text class="ab" x="1749" y="818.3">b</text>
<text class="ab" x="1765.5" y="1309.5">c</text>
<text class="tt" x="1131.4" y="1794.5" letter-spacing="0.45">Retention time (min)</text>
</svg></body></html>
